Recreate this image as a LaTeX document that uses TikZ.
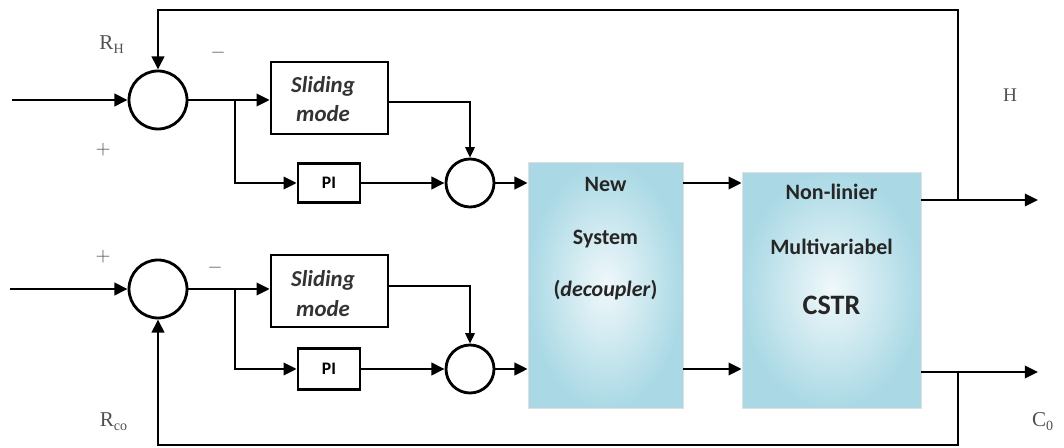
\documentclass[tikz,border=0pt]{standalone}
\usepackage{fontspec}
\setmainfont{Liberation Serif}
\newfontfamily\carlito{Carlito}
\usetikzlibrary{arrows.meta,shadings}
\definecolor{bluedark}{RGB}{170,217,229}
\definecolor{bluelight}{RGB}{240,248,250}
\definecolor{labgray}{RGB}{80,80,80}
\tikzset{
  wire/.style={line width=1.6pt},
  arr/.style={wire, -{Triangle[length=7.5pt,width=7pt]}},
  tarr/.style={line width=0.9pt, -{Triangle[length=6pt,width=5.5pt]}},
  sumc/.style={circle, draw, line width=1.6pt, fill=white, inner sep=0pt},
  ctrl/.style={rectangle, draw, line width=1.5pt, fill=white, inner sep=0pt},
  blk/.style={rectangle, draw=gray!25, inner color=bluelight, outer color=bluedark, inner sep=0pt},
  btxt/.style={anchor=base, font=\carlito\bfseries\fontsize{12.5}{15}\selectfont, text=black!85},
  stxt/.style={anchor=base, font=\carlito\bfseries\itshape\fontsize{13}{15}\selectfont, text=black!80},
  lab/.style={anchor=base, text=labgray, font=\fontsize{12}{14}\selectfont},
  sgn/.style={text=labgray, font=\fontsize{11}{12}\selectfont}
}
\begin{document}
\begin{tikzpicture}[x=0.02cm, y=-0.02cm]
\useasboundingbox (0,0) rectangle (1064,448);
% summing junctions
\node[sumc, minimum size=1.16cm] (sum1) at (158,100){};
\node[sumc, minimum size=1.16cm] (sum2) at (158,289){};
\node[sumc, minimum size=0.96cm] (sum3) at (470,183){};
\node[sumc, minimum size=0.96cm] (sum4) at (470,369){};
% controllers
\node[ctrl, minimum width=2.34cm, minimum height=1.44cm] (sm1) at (329.5,98){};
\node[stxt] (sm1a) at (323,93){Sliding};
\node[stxt] (sm1b) at (323,122){mode};
\node[ctrl, minimum width=2.34cm, minimum height=1.44cm] (sm2) at (329.5,291){};
\node[stxt] (sm2a) at (323,287){Sliding};
\node[stxt] (sm2b) at (323,317){mode};
\node[ctrl, minimum width=1.24cm, minimum height=0.78cm, font=\carlito\bfseries\fontsize{10}{12}\selectfont] (pi1) at (329,183){PI};
\node[ctrl, minimum width=1.24cm, minimum height=0.82cm, font=\carlito\bfseries\fontsize{10}{12}\selectfont] (pi2) at (329,369){PI};
% decoupler and plant
\node[blk, minimum width=3.1cm, minimum height=4.92cm] (dec) at (605.5,285.5){};
\node[btxt] (dec1) at (605.5,192){New};
\node[btxt] (dec2) at (605.5,245){System};
\node[btxt] (dec3) at (605.5,297){(\textit{decoupler})};
\node[blk, minimum width=3.58cm, minimum height=4.72cm] (cstr) at (831.5,290){};
\node[btxt] (cstr1) at (831.5,200){Non-linier};
\node[btxt] (cstr2) at (831.5,255){Multivariabel};
\node[btxt, font=\carlito\bfseries\fontsize{16}{18}\selectfont] (cstr3) at (831.5,315){CSTR};
% free ends
\coordinate (in1) at (12,100);
\coordinate (in2) at (10,289);
\coordinate (b1) at (235,100);
\coordinate (b2) at (235,289);
\coordinate (tapH) at (958,200);
\coordinate (tapC) at (958,372);
\coordinate (outH) at (1038,200);
\coordinate (outC) at (1038,372);
% upper loop
\draw[arr] (in1) -- (sum1);
\draw[arr] (sum1) -- (sm1.west |- sum1);
\draw[arr] (b1) |- (pi1);
\draw[arr] (pi1) -- (sum3);
\draw[tarr] (sm1.east |- 0,102) -| (sum3);
\draw[arr] (sum3) -- (dec.west |- sum3);
% lower loop
\draw[arr] (in2) -- (sum2);
\draw[arr] (sum2) -- (sm2.west |- sum2);
\draw[arr] (b2) |- (pi2);
\draw[arr] (pi2) -- (sum4);
\draw[tarr] (sm2.east |- 0,286) -| (sum4);
\draw[arr] (sum4) -- (dec.west |- sum4);
% decoupler to plant
\draw[arr] (dec.east |- sum3) -- (cstr.west |- sum3);
\draw[arr] (dec.east |- sum4) -- (cstr.west |- sum4);
% outputs and feedback
\draw[arr] (cstr.east |- outH) -- (outH);
\draw[arr] (cstr.east |- outC) -- (outC);
\draw[arr] (tapH) -- ++(0,-190) -| (sum1);
\draw[arr] (tapC) -- ++(0,73) -| (sum2);
% labels
\node[lab] (rh) at (112,50){R\textsubscript{H}};
\node[lab] (rco) at (114,427){R\textsubscript{co}};
\node[lab, font=\fontsize{11}{13}\selectfont] (hl) at (1010,102){H};
\node[lab] (cl) at (1043,427){C\textsubscript{0}};
\node[sgn] (m1) at (218,53){$-$};
\node[sgn] (p1) at (103,150){$+$};
\node[sgn] (p2) at (103,257){$+$};
\node[sgn] (m2) at (215,268){$-$};
\end{tikzpicture}
\end{document}
